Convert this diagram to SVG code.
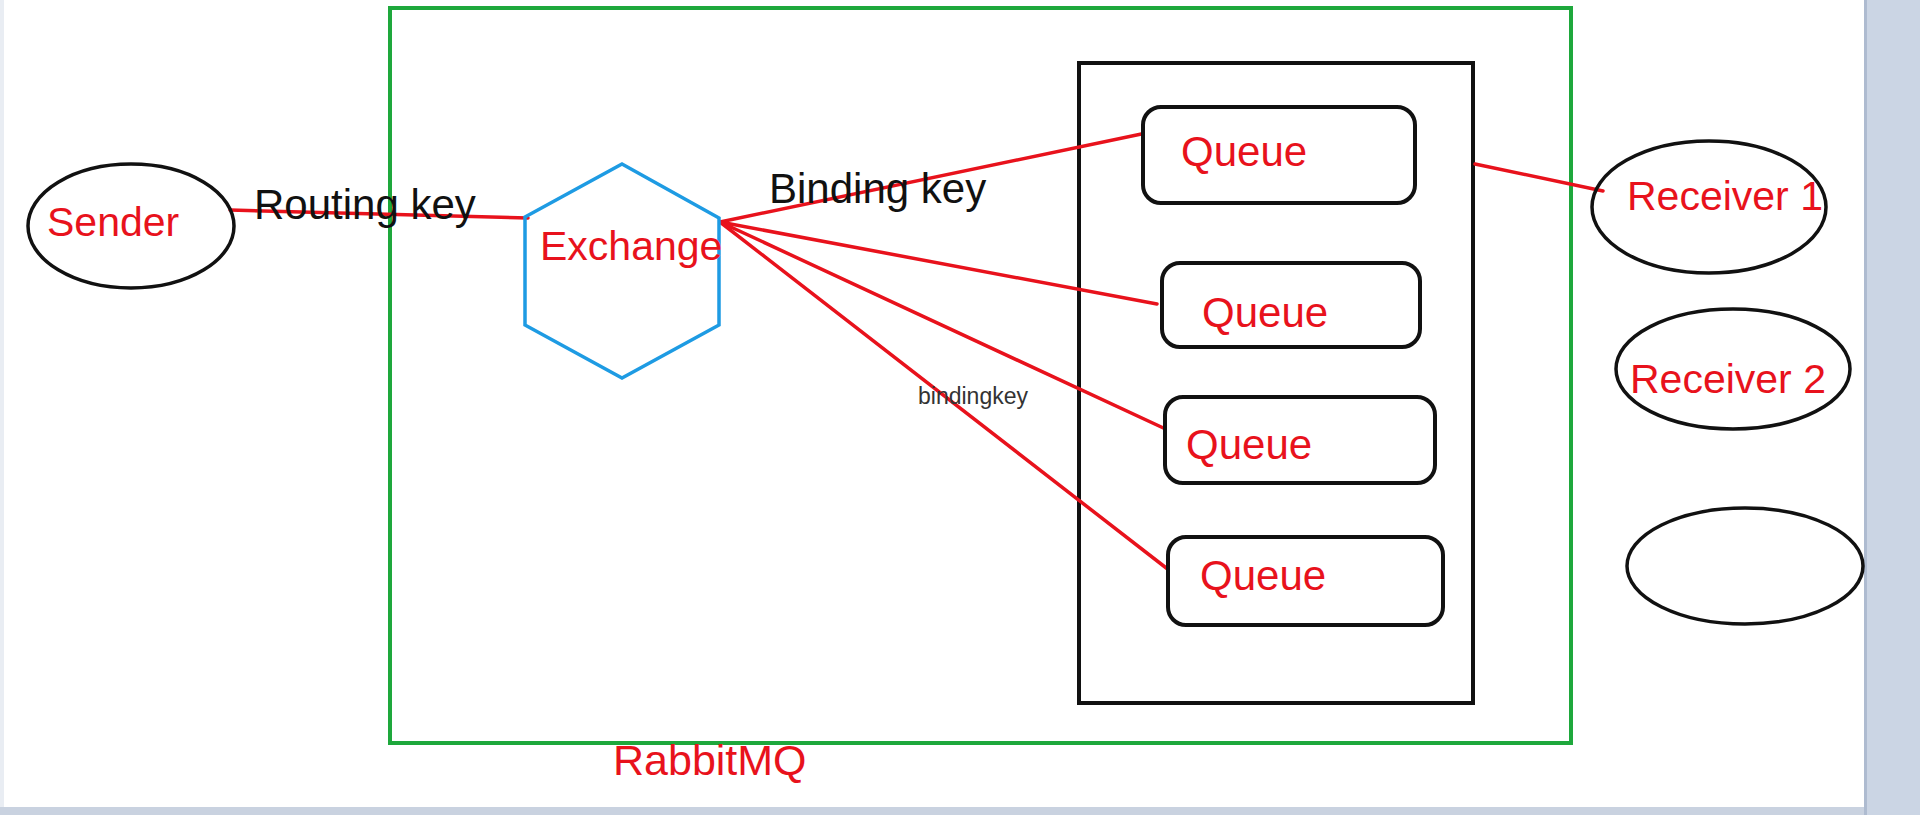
<svg xmlns="http://www.w3.org/2000/svg" width="1920" height="815" viewBox="0 0 1920 815">
<style>
.t{font-family:"Liberation Sans",Arial,sans-serif;fill:#E8121C;font-size:41px}
.qt{font-size:42px}
.k{font-family:"Liberation Sans",Arial,sans-serif;fill:#111;font-size:42px}
.s{font-family:"Liberation Sans",Arial,sans-serif;fill:#333;font-size:23px}
.el{fill:none;stroke:#111;stroke-width:3.5}
.q{fill:#fff;stroke:#111;stroke-width:4}
.ln{stroke:#E8121C;stroke-width:3.5;fill:none;stroke-linecap:round}
</style>
<rect x="0" y="0" width="1920" height="815" fill="#fff"/>
<rect x="0" y="0" width="4" height="815" fill="#E9EDF3"/>
<rect x="1864" y="0" width="56" height="815" fill="#CBD5E4"/>
<rect x="1864" y="0" width="3" height="815" fill="#AEBBD0"/>
<rect x="0" y="807" width="1864" height="8" fill="#C9D2E0"/>

<g id="rabbitmq">
<rect x="390" y="8" width="1181" height="735" fill="none" stroke="#1EA83C" stroke-width="4"/>
<text class="t" x="613" y="775" style="font-size:43px">RabbitMQ</text>
</g>

<g id="queue-container">
<rect x="1079" y="63" width="394" height="640" fill="none" stroke="#111" stroke-width="4"/>
</g>

<g id="connectors">
<line class="ln" x1="230" y1="210" x2="528" y2="218"/>
<line class="ln" x1="720" y1="222" x2="1151" y2="132"/>
<line class="ln" x1="720" y1="222" x2="1157" y2="304"/>
<line class="ln" x1="720" y1="222" x2="1172" y2="432"/>
<line class="ln" x1="720" y1="222" x2="1174" y2="574"/>
<line class="ln" x1="1475" y1="164" x2="1603" y2="191"/>
</g>

<g id="sender">
<ellipse class="el" cx="131" cy="226" rx="103" ry="62"/>
<text class="t" x="47" y="236">Sender</text>
</g>

<g id="routing-key">
<text class="k" x="254" y="219">Routing key</text>
</g>

<g id="exchange">
<polygon points="622,164 719,218 719,325 622,378 525,325 525,217" fill="none" stroke="#1E9BE3" stroke-width="3.5"/>
<text class="t" x="540" y="260">Exchange</text>
</g>

<g id="binding-key">
<text class="k" x="769" y="203">Binding key</text>
</g>
<g id="bindingkey-small">
<text class="s" x="918" y="404">bindingkey</text>
</g>

<g id="queue1">
<rect class="q" x="1143" y="107" width="272" height="96" rx="18"/>
<text class="t qt" x="1181" y="166">Queue</text>
</g>
<g id="queue2">
<rect class="q" x="1162" y="263" width="258" height="84" rx="18"/>
<text class="t qt" x="1202" y="327">Queue</text>
</g>
<g id="queue3">
<rect class="q" x="1165" y="397" width="270" height="86" rx="18"/>
<text class="t qt" x="1186" y="459">Queue</text>
</g>
<g id="queue4">
<rect class="q" x="1168" y="537" width="275" height="88" rx="18"/>
<text class="t qt" x="1200" y="590">Queue</text>
</g>

<g id="receiver1">
<ellipse class="el" cx="1709" cy="207" rx="117" ry="66"/>
<text class="t" x="1627" y="210">Receiver 1</text>
</g>
<g id="receiver2">
<ellipse class="el" cx="1733" cy="369" rx="117" ry="60"/>
<text class="t" x="1630" y="393">Receiver 2</text>
</g>
<g id="receiver3">
<ellipse class="el" cx="1745" cy="566" rx="118" ry="58"/>
</g>
</svg>
